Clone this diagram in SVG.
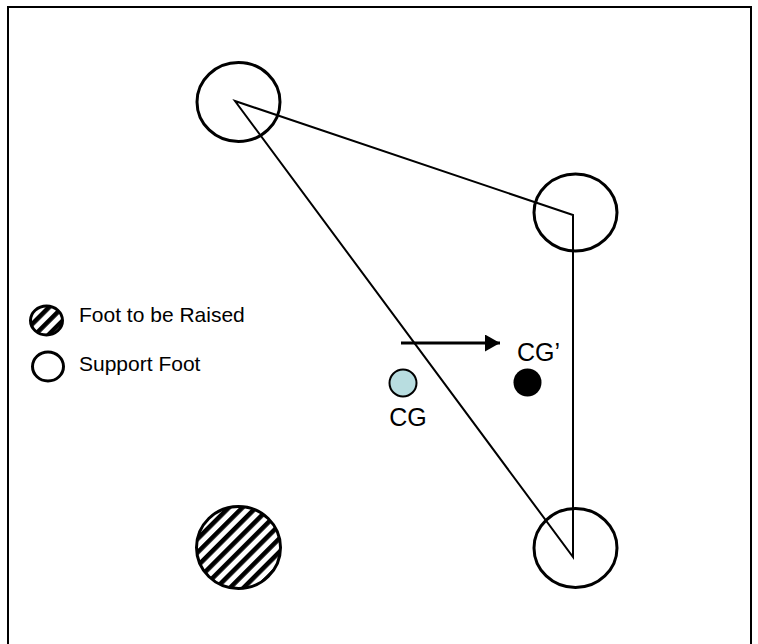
<svg xmlns="http://www.w3.org/2000/svg" width="758" height="644" viewBox="0 0 758 644">
  <style>
    .frame { fill: none; stroke: #000; stroke-width: 2; }
    .edge { fill: none; stroke: #000; stroke-width: 2; }
    .foot { fill: none; stroke: #000; stroke-width: 3; }
    .raised { fill: url(#hatch); stroke: #000; stroke-width: 3; }
    .label { font-family: "Liberation Sans", Arial, sans-serif; fill: #000; }
    .legend { font-size: 21px; }
    .cg { font-size: 25px; }
  </style>
  <defs>
    <!-- diagonal "/" stripes for the foot that is lifted -->
    <pattern id="hatch" patternUnits="userSpaceOnUse" width="9.6" height="9.6" patternTransform="rotate(45)">
      <rect x="0" y="0" width="9.6" height="9.6" fill="#fff"/>
      <rect x="0" y="0" width="4.6" height="9.6" fill="#000"/>
    </pattern>
    <marker id="head" viewBox="0 0 15 17" refX="15" refY="8.5" markerWidth="15" markerHeight="17" markerUnits="userSpaceOnUse" orient="auto">
      <path d="M0,0 L15,8.5 L0,17 Z" fill="#000"/>
    </marker>
  </defs>

  <rect width="758" height="644" fill="#fff"/>
  <rect class="frame" x="8" y="7" width="743" height="660"/>

  <!-- support polygon and CG shift -->
  <g id="connectors">
    <path class="edge" d="M235,101 L573,215 L573,557 Z"/>
    <line x1="401" y1="343" x2="500" y2="343" stroke="#000" stroke-width="3" marker-end="url(#head)"/>
  </g>

  <g id="foot-front-left">
    <ellipse class="foot" cx="238.5" cy="102" rx="41.5" ry="39.5"/>
  </g>
  <g id="foot-right">
    <ellipse class="foot" cx="575.5" cy="212.5" rx="41.5" ry="38.5"/>
  </g>
  <g id="foot-back-right">
    <ellipse class="foot" cx="575.5" cy="548" rx="41.5" ry="39.5"/>
  </g>
  <g id="foot-raised">
    <ellipse class="raised" cx="238.5" cy="547.5" rx="42" ry="41"/>
  </g>

  <g id="cg">
    <circle cx="403" cy="383" r="13.5" fill="#b8dde0" stroke="#000" stroke-width="2"/>
    <text class="label cg" x="408" y="426" text-anchor="middle">CG</text>
  </g>
  <g id="cg-shifted">
    <circle cx="527.5" cy="382.5" r="14" fill="#000"/>
    <text class="label cg" x="517" y="361">CG’</text>
  </g>

  <g id="legend">
    <ellipse class="raised" cx="46.5" cy="320.5" rx="16" ry="14.5"/>
    <text class="label legend" x="79" y="322">Foot to be Raised</text>
    <ellipse class="foot" cx="48" cy="366.5" rx="15.5" ry="14.5"/>
    <text class="label legend" x="79" y="371">Support Foot</text>
  </g>
</svg>
